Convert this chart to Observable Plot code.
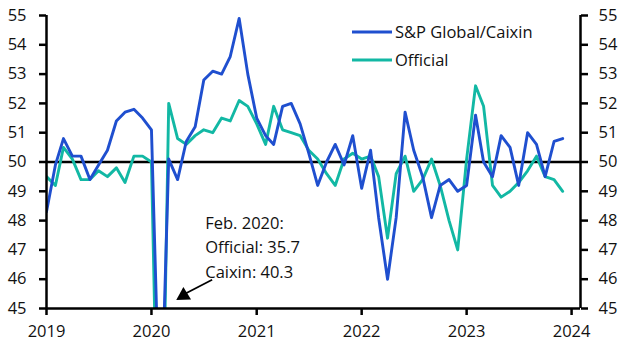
<!DOCTYPE html>
<html>
<head>
<meta charset="utf-8">
<script src="https://cdn.jsdelivr.net/npm/d3@7"></script>
<script src="https://cdn.jsdelivr.net/npm/@observablehq/plot@0.6"></script>
<style>
  html, body { margin: 0; padding: 0; background: #fff; }
  #chart { width: 628px; height: 353px; }
</style>
</head>
<body>
<div id="chart"></div>
<script>
// Monthly PMI, Jan 2019 - Dec 2023
const startYear = 2019;
const caixin = [
  48.3, 49.9, 50.8, 50.2, 50.2, 49.4, 49.9, 50.4, 51.4, 51.7, 51.8, 51.5,
  51.1, 40.3, 50.1, 49.4, 50.7, 51.2, 52.8, 53.1, 53.0, 53.6, 54.9, 53.0,
  51.5, 50.9, 50.6, 51.9, 52.0, 51.3, 50.3, 49.2, 50.0, 50.6, 49.9, 50.9,
  49.1, 50.4, 48.1, 46.0, 48.1, 51.7, 50.4, 49.5, 48.1, 49.2, 49.4, 49.0,
  49.2, 51.6, 50.0, 49.5, 50.9, 50.5, 49.2, 51.0, 50.6, 49.5, 50.7, 50.8
];
const official = [
  49.5, 49.2, 50.5, 50.1, 49.4, 49.4, 49.7, 49.5, 49.8, 49.3, 50.2, 50.2,
  50.0, 35.7, 52.0, 50.8, 50.6, 50.9, 51.1, 51.0, 51.5, 51.4, 52.1, 51.9,
  51.3, 50.6, 51.9, 51.1, 51.0, 50.9, 50.4, 50.1, 49.6, 49.2, 50.1, 50.3,
  50.1, 50.2, 49.5, 47.4, 49.6, 50.2, 49.0, 49.4, 50.1, 49.2, 48.0, 47.0,
  50.1, 52.6, 51.9, 49.2, 48.8, 49.0, 49.3, 49.7, 50.2, 49.5, 49.4, 49.0
];
const seriesNames = ["S&P Global/Caixin", "Official"];
const seriesColors = ["#1f4fcf", "#12b8a4"];
const yTicks = [45, 46, 47, 48, 49, 50, 51, 52, 53, 54, 55];
const xTickYears = [2019, 2020, 2021, 2022, 2023, 2024];
const annotationText = "Feb. 2020:\nOfficial: 35.7\nCaixin: 40.3";

const months = caixin.map((_, i) => new Date(Date.UTC(startYear, i, 1)));
const rows = months.map((d, i) => ({date: d, caixin: caixin[i], official: official[i]}));
const xTicks = xTickYears.map(y => new Date(Date.UTC(y, 0, 1)));
const xDomain = [new Date(Date.UTC(2019, 0, 1)), new Date(Date.UTC(2024, 1, 1))];
const yDomain = [45, 55];

const FONT = "'Open Sans', 'Noto Sans', sans-serif";
const FS = 16.5;

const plot = Plot.plot({
  width: 628,
  height: 353,
  marginLeft: 46,
  marginRight: 48,
  marginTop: 15,
  marginBottom: 45,
  style: {fontFamily: FONT, fontSize: FS + "px", color: "#111", background: "#fff"},
  x: {type: "utc", domain: xDomain},
  y: {domain: yDomain},
  marks: [
    Plot.ruleY([50], {stroke: "black", strokeWidth: 2.5}),
    Plot.lineY(rows, {x: "date", y: "official", stroke: seriesColors[1], strokeWidth: 2.9, clip: true}),
    Plot.lineY(rows, {x: "date", y: "caixin", stroke: seriesColors[0], strokeWidth: 2.9, clip: true}),
    // axis lines
    Plot.ruleX([xDomain[0]], {y1: yDomain[0], y2: yDomain[1], stroke: "black", strokeWidth: 2.5}),
    Plot.ruleX([xDomain[1]], {y1: yDomain[0], y2: yDomain[1], stroke: "black", strokeWidth: 2.5}),
    Plot.ruleY([yDomain[0]], {stroke: "black", strokeWidth: 2.5}),
    Plot.axisY(yTicks, {anchor: "left", tickSize: 7, tickPadding: 13, strokeWidth: 2.5, stroke: "black", label: null, fontSize: FS}),
    Plot.axisY(yTicks, {anchor: "right", tickSize: 7, tickPadding: 11, strokeWidth: 2.5, stroke: "black", label: null, fontSize: FS}),
    Plot.axisX(xTicks, {anchor: "bottom", tickSize: 7, tickPadding: 10, strokeWidth: 2.5, stroke: "black", tickFormat: d3.utcFormat("%Y"), label: null, fontSize: FS}),
    // annotation
    Plot.text([annotationText], {
      x: () => new Date(Date.UTC(2020, 6, 6)), y: () => 47.15,
      text: d => d, textAnchor: "start", lineAnchor: "middle", lineHeight: 1.5,
      fontSize: FS, fill: "#111"
    }),
    Plot.link([0], {
      x1: () => new Date(Date.UTC(2020, 6, 30)), y1: () => 45.98,
      x2: () => new Date(Date.UTC(2020, 3, 10)), y2: () => 45.42,
      stroke: "black", strokeWidth: 1.8
    }),
    Plot.dot([0], {
      x: () => new Date(Date.UTC(2020, 2, 29)), y: () => 45.30,
      symbol: "triangle", r: 5.5, fill: "black", stroke: "none",
      rotate: 238.7, dx: 6.8, dy: -4.2
    })
  ]
});

// Legend inside the plot area, top right
const svg = d3.select(plot);
const leg = svg.append("g").attr("font-family", FONT).attr("font-size", FS + "px")
  .attr("text-anchor", "start");
seriesNames.forEach((name, i) => {
  const y = 32 + i * 28;
  leg.append("line").attr("x1", 352).attr("x2", 392).attr("y1", y).attr("y2", y)
    .attr("stroke", seriesColors[i]).attr("stroke-width", 3);
  leg.append("text").attr("x", 395).attr("y", y).attr("dy", "0.35em")
    .attr("text-anchor", "start").attr("fill", "#111").text(name);
});

document.getElementById("chart").appendChild(plot);
</script>
</body>
</html>
